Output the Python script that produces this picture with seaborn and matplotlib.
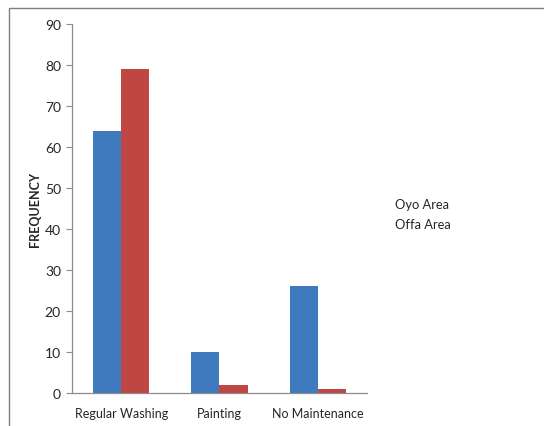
import matplotlib
matplotlib.use("Agg")
import matplotlib.pyplot as plt
import seaborn as sns
import pandas as pd
from matplotlib.patches import Rectangle

categories = ["Regular Washing", "Painting", "No Maintenance"]
series = ["Oyo Area", "Offa Area"]
oyo = [64, 10, 26]
offa = [79, 2, 1]
yticks = [0, 10, 20, 30, 40, 50, 60, 70, 80, 90]

df = pd.DataFrame({
    "category": categories * 2,
    "series": [series[0]] * 3 + [series[1]] * 3,
    "value": oyo + offa,
})

sns.set_style("white")
plt.rcParams["font.family"] = ["Lato", "DejaVu Sans"]

fig = plt.figure(figsize=(5.44, 4.27), dpi=100)
ax = fig.add_axes([72/544, 1-394/427, (367-72)/544, (394-25)/427])

sns.barplot(data=df, x="category", y="value", hue="series", order=categories,
            hue_order=series, palette=["#3F79BE", "#BF4643"], width=0.57,
            gap=0, saturation=1, ax=ax, legend=False, linewidth=0)

ax.set_ylim(0, 90)
ax.set_xlim(-0.5, 2.5)
ax.set_yticks(yticks)
ax.set_xlabel("")
ax.set_ylabel("FREQUENCY", fontsize=9, fontweight="bold", labelpad=3)
for s in ["top", "right"]:
    ax.spines[s].set_visible(False)
for s in ["left", "bottom"]:
    ax.spines[s].set_color("#8C8C8C")
    ax.spines[s].set_linewidth(0.9)
ax.tick_params(axis="y", length=4, color="#8C8C8C", labelsize=10, pad=4, direction="out", left=True)
ax.tick_params(axis="x", length=0, labelsize=9, pad=10)

fig.patches.append(Rectangle((9/544, -0.05), 1.1, 1 - 9/427 + 0.05,
                             transform=fig.transFigure, fill=False,
                             edgecolor="#7F7F7F", linewidth=1.0))

fig.text(395/544, 1-205/427, series[0], fontsize=9.3, va="center", ha="left")
fig.text(395/544, 1-225/427, series[1], fontsize=9.3, va="center", ha="left")

fig.savefig("out.png", dpi=100)
